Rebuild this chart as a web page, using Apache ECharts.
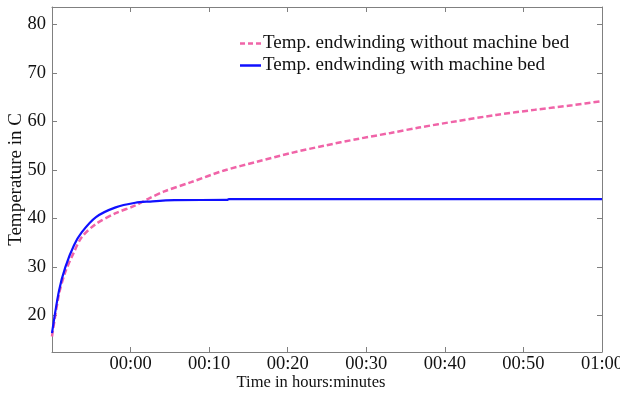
<!DOCTYPE html>
<html>
<head>
<meta charset="utf-8">
<script src="https://cdn.jsdelivr.net/npm/echarts@6/dist/echarts.min.js"></script>
<style>html,body{margin:0;padding:0;background:#fff}#c{width:620px;height:397px}</style>
</head>
<body>
<div id="c"></div>
<script>
// time in minutes, temperature in C
const seriesNames = ['Temp. endwinding without machine bed', 'Temp. endwinding with machine bed'];
const withoutBed = [[-10, 15.7], [-9.1, 24.5], [-8.3, 29.0], [-7.2, 33.1], [-6.2, 36.2], [-4.4, 38.9], [-1.9, 41.1], [0.6, 42.7], [2.3, 44.1], [4.3, 45.6], [7.7, 47.5], [11.9, 49.9], [16.2, 51.75], [20.4, 53.5], [24.6, 55.0], [28.9, 56.4], [33.1, 57.65], [36.7, 58.75], [41.6, 60.1], [46.5, 61.35], [51.4, 62.4], [56.2, 63.35], [60, 64.2]];
const withBed = [[-10, 16.4], [-9.1, 25.2], [-8.3, 30.0], [-7.2, 34.5], [-6.2, 37.2], [-4.4, 40.3], [-1.9, 42.3], [0.6, 43.25], [2.3, 43.5], [5.6, 43.8], [12.3, 43.85], [12.5, 44.0], [30, 44.0], [60, 44.0]];
const xTicks = [0, 10, 20, 30, 40, 50, 60];
const yTicks = [20, 30, 40, 50, 60, 70, 80];

const font = 'Liberation Serif';
const axisColor = '#808080';
const pink = '#f064a8';
const blue = '#1010ff';
function fmtTime(v) {
  const h = Math.floor(v / 60), m = Math.round(v - h * 60);
  return String(h).padStart(2, '0') + ':' + String(m).padStart(2, '0');
}
const chart = echarts.init(document.getElementById('c'));
const baseX = {
  type: 'value', min: -10, max: 60,
  axisLine: { show: true, onZero: false, lineStyle: { color: axisColor, width: 1 } },
  splitLine: { show: false }
};
const baseY = {
  type: 'value', min: 12.5, max: 83.6,
  axisLine: { show: true, onZero: false, lineStyle: { color: axisColor, width: 1 } },
  splitLine: { show: false }
};
chart.setOption({
  animation: false,
  backgroundColor: '#fff',
  grid: { left: 52, right: 18, top: 7, bottom: 45, outerBoundsMode: 'none', containLabel: false },
  legend: {
    orient: 'vertical', left: 240, top: 34, padding: 0,
    itemWidth: 21, itemHeight: 2.5, itemGap: 3, symbolKeepAspect: false,
    textStyle: { fontFamily: font, fontSize: 19, color: '#111', padding: [0, 0, 0, -3] },
    data: [
      { name: seriesNames[0], icon: 'path://M0,0h5v1h-5zM8,0h5v1h-5zM16,0h5v1h-5z', itemStyle: { color: pink } },
      { name: seriesNames[1], icon: 'path://M0,0h21v1h-21z', itemStyle: { color: blue } }
    ]
  },
  xAxis: [
    Object.assign({}, baseX, {
      position: 'bottom',
      name: 'Time in hours:minutes', nameLocation: 'middle', nameGap: 22, nameMoveOverlap: false,
      nameTextStyle: { fontFamily: font, fontSize: 16.5, color: '#111', padding: [0, 32, 0, 0], verticalAlign: 'top' },
      axisTick: { show: true, inside: true, length: 5, customValues: xTicks, lineStyle: { color: axisColor } },
      axisLabel: { show: true, customValues: xTicks, formatter: fmtTime, margin: 3, fontFamily: font, fontSize: 18.5, color: '#111' }
    }),
    Object.assign({}, baseX, {
      position: 'top',
      axisTick: { show: true, inside: true, length: 5, customValues: xTicks, lineStyle: { color: axisColor } },
      axisLabel: { show: false }
    })
  ],
  yAxis: [
    Object.assign({}, baseY, {
      position: 'left',
      name: 'Temperature in C', nameLocation: 'middle', nameGap: 26, nameMoveOverlap: false,
      nameTextStyle: { fontFamily: font, fontSize: 19, color: '#111' },
      axisTick: { show: true, inside: true, length: 5, customValues: yTicks, lineStyle: { color: axisColor } },
      axisLabel: { show: true, customValues: yTicks, margin: 6, fontFamily: font, fontSize: 18.5, color: '#111' }
    }),
    Object.assign({}, baseY, {
      position: 'right',
      axisTick: { show: true, inside: true, length: 5, customValues: yTicks, lineStyle: { color: axisColor } },
      axisLabel: { show: false }
    })
  ],
  series: [
    {
      name: seriesNames[0], type: 'line', data: withoutBed, symbol: 'none',
      smooth: 0.3, z: 2,
      lineStyle: { color: pink, width: 2.5, type: [6, 3] },
      itemStyle: { color: pink }
    },
    {
      name: seriesNames[1], type: 'line', data: withBed, symbol: 'none',
      smooth: 0.3, z: 3,
      lineStyle: { color: blue, width: 2.2 },
      itemStyle: { color: blue }
    }
  ]
});
</script>
</body>
</html>
